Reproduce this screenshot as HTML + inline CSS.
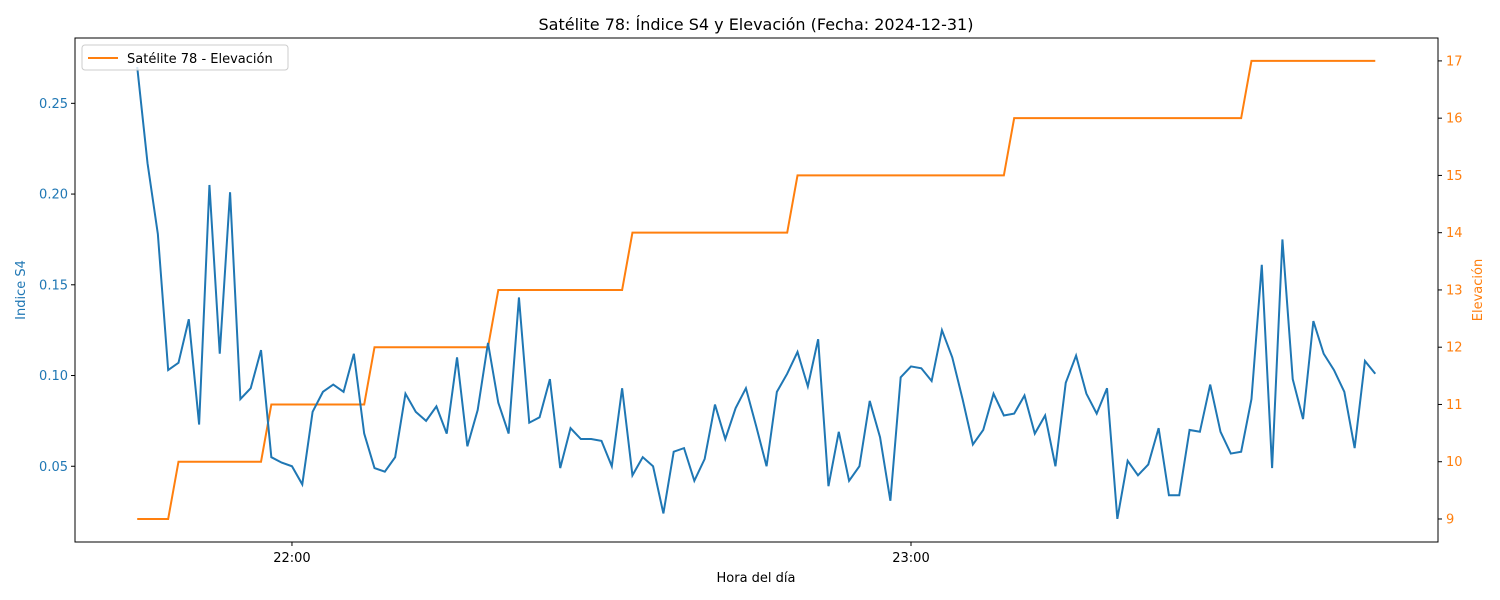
<!DOCTYPE html>
<html><head><meta charset="utf-8">
<style>
html,body{margin:0;padding:0;background:#fff;}
svg{display:block;font-family:"DejaVu Sans","Liberation Sans",sans-serif;}
</style></head>
<body>
<svg id="chart" width="1500" height="600" xmlns="http://www.w3.org/2000/svg">
<rect width="1500" height="600" fill="#fff"/>
<text x="756" y="30" font-size="16" text-anchor="middle" fill="#000">Satélite 78: Índice S4 y Elevación (Fecha: 2024-12-31)</text>
<text x="756" y="582" font-size="13" text-anchor="middle">Hora del día</text>
<text transform="translate(25,290) rotate(-90)" font-size="13" text-anchor="middle" fill="#1f77b4">Indice S4</text>
<text transform="translate(1482,290) rotate(-90)" font-size="13" text-anchor="middle" fill="#ff7f0e">Elevación</text>
<g id="marks"></g>
<rect x="75" y="38" width="1363" height="504" fill="none" stroke="#000" stroke-width="1"/>
<g>
<rect x="82" y="45" width="206" height="25" rx="3" fill="#fff" fill-opacity="0.8" stroke="#ccc"/>
<line x1="88" y1="58" x2="118" y2="58" stroke="#ff7f0e" stroke-width="2"/>
<text x="127" y="63" font-size="13">Satélite 78 - Elevación</text>
</g>
</svg>
<script>
// minutes after 21:00
const startMinute = 105;
const s4Values = [0.27,0.217,0.178,0.103,0.107,0.131,0.073,0.205,0.112,0.201,0.087,0.093,0.114,0.055,0.052,0.050,0.040,0.080,0.091,0.095,0.091,0.112,0.068,0.049,0.047,0.055,0.090,0.080,0.075,0.083,0.068,0.110,0.061,0.081,0.118,0.085,0.068,0.143,0.074,0.077,0.098,0.049,0.071,0.065,0.065,0.064,0.050,0.093,0.045,0.055,0.050,0.024,0.058,0.060,0.042,0.054,0.084,0.065,0.082,0.093,0.072,0.050,0.091,0.101,0.113,0.094,0.120,0.039,0.069,0.042,0.050,0.086,0.066,0.031,0.099,0.105,0.104,0.097,0.125,0.110,0.087,0.062,0.070,0.090,0.078,0.079,0.089,0.068,0.078,0.050,0.096,0.111,0.090,0.079,0.093,0.021,0.053,0.045,0.051,0.071,0.034,0.034,0.070,0.069,0.095,0.069,0.057,0.058,0.087,0.161,0.049,0.175,0.098,0.076,0.130,0.112,0.103,0.091,0.060,0.108,0.101];
const elevStepMinute = [0,4,13,23,35,48,64,85,108];
const elevStepValue = [9,10,11,12,13,14,15,16,17];
const leftTicks = [0.05,0.10,0.15,0.20,0.25];
const leftTickLabels = ["0.05","0.10","0.15","0.20","0.25"];
const rightTicks = [9,10,11,12,13,14,15,16,17];
const xTicks = [60,120];
const xTickLabels = ["22:00","23:00"];

const X0=75,X1=1438,Y0=38,Y1=542;
const xMin=38.97,xMax=171.08;
const lMin=0.00826,lMax=0.2860;
const rMin=8.598,rMax=17.40;
const xs=m=>X0+(m-xMin)/(xMax-xMin)*(X1-X0);
const yl=v=>Y1-(v-lMin)/(lMax-lMin)*(Y1-Y0);
const yr=v=>Y1-(v-rMin)/(rMax-rMin)*(Y1-Y0);
const NS="http://www.w3.org/2000/svg";
const g=document.getElementById('marks');
function mk(t,a){const e=document.createElementNS(NS,t);for(const k in a)e.setAttribute(k,a[k]);g.appendChild(e);return e;}

// clip
const defs=mk('defs',{});
const cp=document.createElementNS(NS,'clipPath');cp.setAttribute('id','clip');
const cr=document.createElementNS(NS,'rect');cr.setAttribute('x',X0);cr.setAttribute('y',Y0);cr.setAttribute('width',X1-X0);cr.setAttribute('height',Y1-Y0);
cp.appendChild(cr);defs.appendChild(cp);

// elevation series (per minute)
function elevAt(k){let v=elevStepValue[0];for(let i=0;i<elevStepMinute.length;i++)if(k>=elevStepMinute[i])v=elevStepValue[i];return v;}
let pe=[];
for(let k=0;k<s4Values.length;k++)pe.push(xs(startMinute-60+60+k-60+60)+','+yr(elevAt(k)));
pe=[];
for(let k=0;k<s4Values.length;k++)pe.push(xs(startMinute+k-60)+','+yr(elevAt(k)));
// fix: startMinute is 21:45 => 45 minutes after 21:00; axis uses minutes after 21:00
pe=[];
for(let k=0;k<s4Values.length;k++)pe.push(xs(45+k)+','+yr(elevAt(k)));
const el=mk('polyline',{points:pe.join(' '),fill:'none',stroke:'#ff7f0e','stroke-width':2,'clip-path':'url(#clip)'});



let ps=[];
for(let k=0;k<s4Values.length;k++)ps.push(xs(45+k)+','+yl(s4Values[k]));
const sl=mk('polyline',{points:ps.join(' '),fill:'none',stroke:'#1f77b4','stroke-width':2,'stroke-linejoin':'miter','clip-path':'url(#clip)'});



leftTicks.forEach((v,i)=>{
  const y=yl(v);
  const t=mk('line',{x1:X0-4,x2:X0,y1:y,y2:y,stroke:'#000'});
  
  
  const tx=mk('text',{x:X0-7,y:y+4.5,'font-size':13,'text-anchor':'end',fill:'#1f77b4'});
  
  
  tx.textContent=leftTickLabels[i];
});
rightTicks.forEach(v=>{
  const y=yr(v);
  const t=mk('line',{x1:X1,x2:X1+4,y1:y,y2:y,stroke:'#000'});
  
  
  const tx=mk('text',{x:X1+8,y:y+4.5,'font-size':13,fill:'#ff7f0e'});
  
  
  tx.textContent=String(v);
});
xTicks.forEach((m,i)=>{
  const x=xs(m);
  const t=mk('line',{x1:x,x2:x,y1:Y1,y2:Y1+4,stroke:'#000'});
  
  
  const tx=mk('text',{x:x,y:Y1+20,'font-size':13,'text-anchor':'middle'});
  
  
  tx.textContent=xTickLabels[i];
});
</script>
</body></html>
